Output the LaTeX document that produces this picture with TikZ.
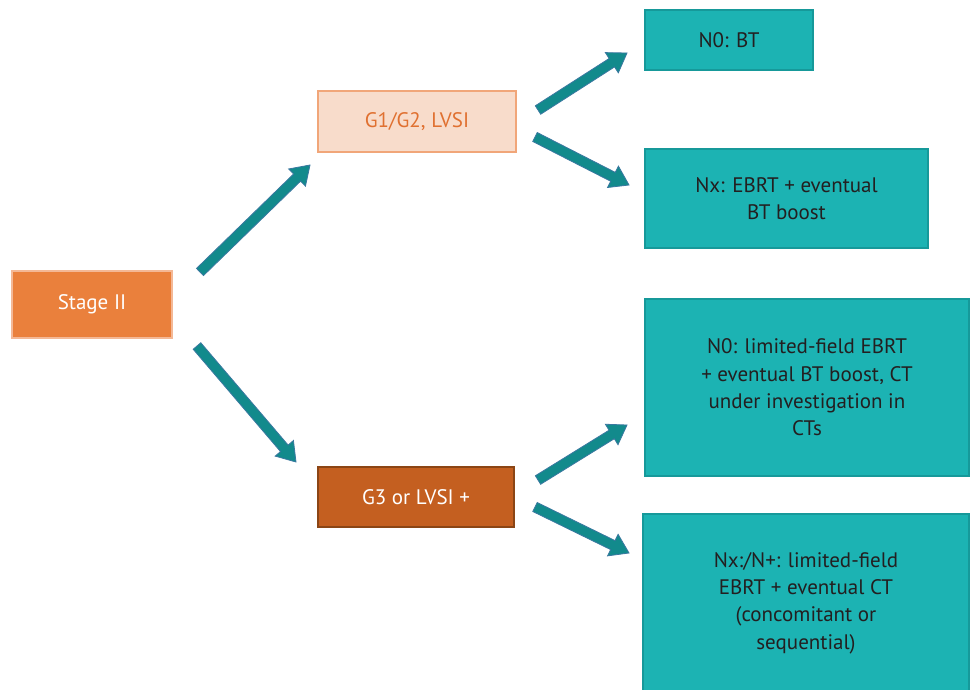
\documentclass[tikz,border=0pt]{standalone}
\usepackage{fontspec}
\setmainfont{PT Sans}
\usetikzlibrary{calc}

\definecolor{stagefill}{HTML}{EA803C}
\definecolor{stageedge}{HTML}{F4B896}
\definecolor{lowfill}{HTML}{F8DCCB}
\definecolor{lowedge}{HTML}{F1A679}
\definecolor{lowtext}{HTML}{E07030}
\definecolor{highfill}{HTML}{C45F20}
\definecolor{highedge}{HTML}{8B4515}
\definecolor{tealfill}{HTML}{1CB3B3}
\definecolor{tealedge}{HTML}{16999A}
\definecolor{arrfill}{HTML}{128A8C}
\definecolor{arredge}{HTML}{3A78A0}
\definecolor{darktext}{HTML}{231F20}

% block arrow from #1 (tail centre) to #2 (tip)
\newcommand{\blockarrow}[2]{%
  \draw[blockarr] let \p1=($(#2)-(#1)$), \n1={atan2(\y1,\x1)} in
    ($(#1)+(\n1+90:5pt)$)
    -- ($(#2)+(\n1+180:18pt)+(\n1+90:5pt)$)
    -- ($(#2)+(\n1+180:18pt)+(\n1+90:12pt)$)
    -- (#2)
    -- ($(#2)+(\n1+180:18pt)+(\n1-90:12pt)$)
    -- ($(#2)+(\n1+180:18pt)+(\n1-90:5pt)$)
    -- ($(#1)+(\n1-90:5pt)$) -- cycle;}

\tikzset{
  box/.style={rectangle, anchor=north west, inner sep=0pt, line width=2pt,
    align=center, font=\fontsize{21}{27.3}\selectfont},
  stagebox/.style={box, fill=stagefill, draw=stageedge, text=white},
  lowbox/.style={box, fill=lowfill, draw=lowedge, text=lowtext},
  highbox/.style={box, fill=highfill, draw=highedge, text=white},
  tealbox/.style={box, fill=tealfill, draw=tealedge, text=darktext},
  blockarr/.style={fill=arrfill, draw=arredge, line width=0.8pt, line join=miter},
}

\begin{document}
\begin{tikzpicture}[x=1pt, y=-1pt]
  \useasboundingbox[fill=white] (0,0) rectangle (970,689);

  % decision boxes
  \node[stagebox, minimum width=160pt, minimum height=67pt] (stage) at (11,270) {Stage II};
  \node[lowbox, minimum width=198pt, minimum height=61pt] (low) at (317,90) {G1/G2, LVSI};
  \node[highbox, minimum width=196pt, minimum height=60pt] (high) at (317,466) {G3 or LVSI +};

  % treatment boxes
  \node[tealbox, minimum width=168pt, minimum height=60pt] (bt) at (644,9) {N0: BT};
  \node[tealbox, minimum width=283pt, minimum height=99pt] (ebrt) at (644,148)
    {Nx: EBRT + eventual\\BT boost};
  \node[tealbox, minimum width=324pt, minimum height=177pt] (lim) at (644,298)
    {N0: limited-field EBRT\\+ eventual BT boost, CT\\under investigation in\\CTs};
  \node[tealbox, minimum width=326pt, minimum height=178pt] (limct) at (642,513)
    {Nx:/N+: limited-field\\EBRT + eventual CT\\(concomitant or\\sequential)};

  % arrow end points
  \coordinate (a1s) at (200,272); \coordinate (a1e) at (310,165);
  \coordinate (a2s) at (197,346); \coordinate (a2e) at (296,462);
  \coordinate (a3s) at (538,110); \coordinate (a3e) at (627,53);
  \coordinate (a4s) at (535,137); \coordinate (a4e) at (629,185);
  \coordinate (a5s) at (538,480); \coordinate (a5e) at (627,425);
  \coordinate (a6s) at (535,507); \coordinate (a6e) at (629,553);

  \blockarrow{a1s}{a1e}
  \blockarrow{a2s}{a2e}
  \blockarrow{a3s}{a3e}
  \blockarrow{a4s}{a4e}
  \blockarrow{a5s}{a5e}
  \blockarrow{a6s}{a6e}
\end{tikzpicture}
\end{document}
